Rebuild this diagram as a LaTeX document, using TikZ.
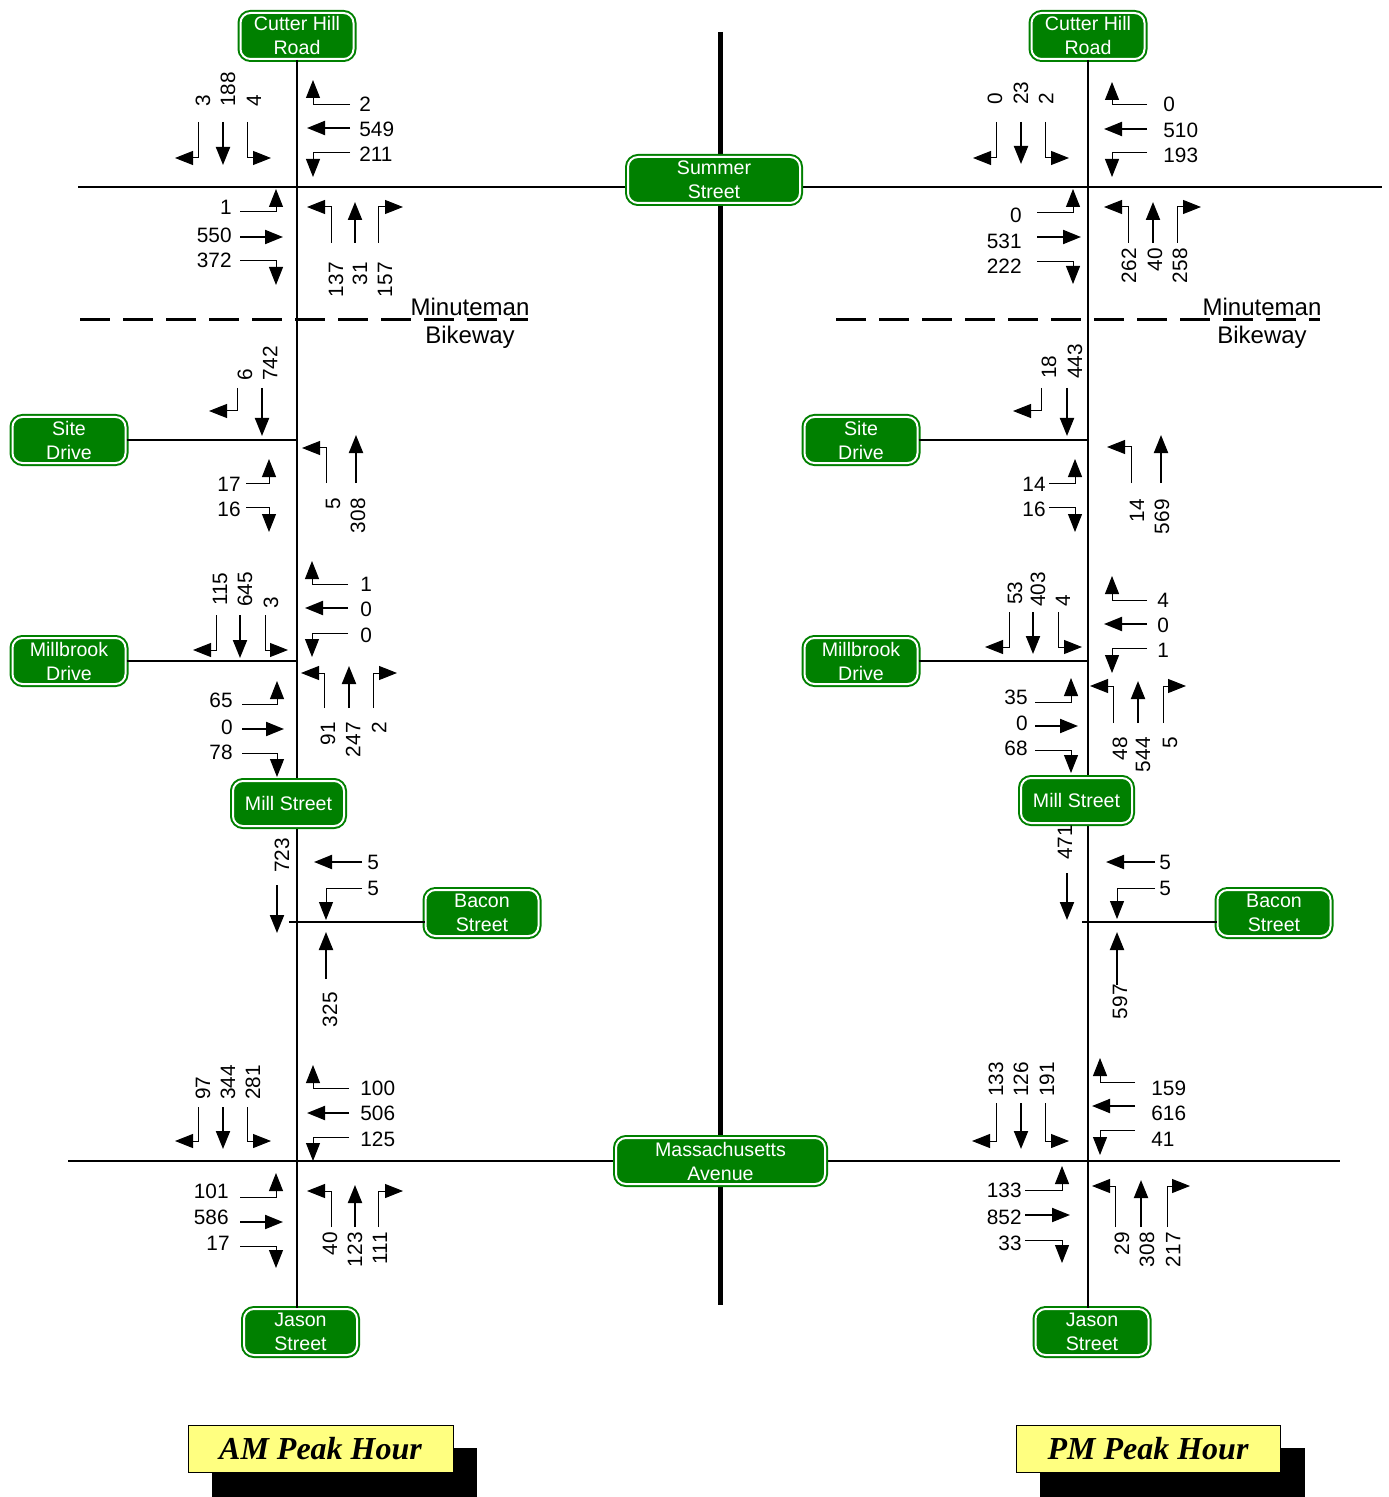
\documentclass[tikz,border=0pt]{standalone}
\usepackage{fontspec}
\setmainfont{Liberation Sans}
\newfontfamily\peakfont{Liberation Serif}
\usetikzlibrary{arrows.meta}
\definecolor{signgreen}{RGB}{0,128,0}
\definecolor{peakyellow}{RGB}{255,255,128}
\tikzset{
  sign/.style={draw=signgreen, double=white, double distance=1pt, line width=1pt,
    fill=signgreen, rounded corners=5pt, text=white, align=center, inner sep=0pt,
    font=\fontsize{9.8}{12}\selectfont, minimum width=56.5pt, minimum height=23pt},
  road/.style={line width=1pt},
  num/.style={font=\fontsize{10.4}{12}\selectfont, inner sep=0pt},
  thru/.style={line width=1pt, -{Triangle[length=9pt,width=7pt]}},
  turn/.style={line width=0.5pt, -{Triangle[length=9pt,width=7pt]}},
  sblab/.style={num, rotate=90, anchor=west},
  nblab/.style={num, rotate=90, anchor=east},
  wblab/.style={num, anchor=west},
  eblab/.style={num, anchor=east},
  peak/.style={draw, line width=0.5pt, fill=peakyellow, minimum width=132.5pt, minimum height=23.5pt,
    font=\peakfont\bfseries\itshape\fontsize{16}{18}\selectfont}
}
\begin{document}
\begin{tikzpicture}[x=0.5pt, y=-0.5pt]
\useasboundingbox (0,0) rectangle (1388,1497);
% free road ends
\coordinate (sumW) at (78,187);
\coordinate (sumE) at (1382,187);
\coordinate (massW) at (68,1161);
\coordinate (massE) at (1340,1161);
\coordinate (divN) at (720,32);
\coordinate (divS) at (720,1305);
\coordinate (baconAMend) at (289,922);
\coordinate (baconPMend) at (1082,922);
\coordinate (bikeAMw) at (80,320);
\coordinate (bikeAMe) at (528,320);
\coordinate (bikePMw) at (836,320);
\coordinate (bikePMe) at (1320,320);
% street signs at road ends
\node[sign] (cutterAM) at (297,36) {Cutter Hill\\Road};
\node[sign] (cutterPM) at (1088,36) {Cutter Hill\\Road};
\node[sign] (jasonAM) at (300.5,1332) {Jason\\Street};
\node[sign] (jasonPM) at (1092,1332) {Jason\\Street};
\node[sign] (siteAM) at (69,440) {Site\\Drive};
\node[sign] (sitePM) at (861,440) {Site\\Drive};
\node[sign] (millbrookAM) at (69,661) {Millbrook\\Drive};
\node[sign] (millbrookPM) at (861,661) {Millbrook\\Drive};
\node[sign] (baconAM) at (482,913) {Bacon\\Street};
\node[sign] (baconPM) at (1274,913) {Bacon\\Street};
% roads
\draw[road] (cutterAM.south) -- (cutterAM.south |- jasonAM.north);
\draw[road] (cutterPM.south) -- (cutterPM.south |- jasonPM.north);
\draw[road] (sumW) -- (sumE);
\draw[road] (massW) -- (massE);
\draw[line width=2.5pt] (divN) -- (divS);
\draw[road] (siteAM.east) -- (siteAM.east -| cutterAM.south);
\draw[road] (sitePM.east) -- (sitePM.east -| cutterPM.south);
\draw[road] (millbrookAM.east) -- (millbrookAM.east -| cutterAM.south);
\draw[road] (millbrookPM.east) -- (millbrookPM.east -| cutterPM.south);
\draw[road] (baconAMend) -- (baconAMend -| baconAM.west);
\draw[road] (baconPMend) -- (baconPMend -| baconPM.west);
% bikeway
\draw[line width=1.5pt, dash pattern=on 15pt off 6.5pt] (bikeAMw) -- (bikeAMe);
\draw[line width=1.5pt, dash pattern=on 15pt off 6.5pt] (bikePMw) -- (bikePMe);
\node[font=\fontsize{12}{14}\selectfont, inner sep=0pt, anchor=base] (minuAM) at (470,316) {Minuteman};
\node[font=\fontsize{12}{14}\selectfont, inner sep=0pt] (bikeAM) at (470,337) {Bikeway};
\node[font=\fontsize{12}{14}\selectfont, inner sep=0pt, anchor=base] (minuPM) at (1262,316) {Minuteman};
\node[font=\fontsize{12}{14}\selectfont, inner sep=0pt] (bikePM) at (1262,337) {Bikeway};
% signs on the roads
\node[sign, minimum width=86pt] (summer) at (714,180) {Summer\\Street};
\node[sign, minimum width=104.5pt] (massave) at (720.5,1161) {Massachusetts\\Avenue};
\node[sign, minimum width=55.5pt, minimum height=22.5pt] (millAM) at (288.5,803.5) {Mill Street};
\node[sign, minimum width=55.5pt, minimum height=22.5pt] (millPM) at (1076.5,800.5) {Mill Street};

% AM: Cutter Hill Road / Summer Street
\draw[turn] (198,122) |- (175,158);
\draw[thru] (223,122) -- (223,165);
\draw[turn] (247,122) |- (271,158);
\node[sblab] at (203,107) {3};
\node[sblab] at (228,107) {188};
\node[sblab] at (254,107) {4};
\draw[turn] (350,105) -| (313,80);
\draw[thru] (350,128) -- (307,128);
\draw[turn] (350,153) -| (313,177);
\node[wblab] at (359,104) {2};
\node[wblab] at (359,129) {549};
\node[wblab] at (359,154) {211};
\draw[turn] (240,212) -| (276,189);
\draw[thru] (240,237) -- (283,237);
\draw[turn] (240,261) -| (276,285);
\node[eblab] at (232,207) {1};
\node[eblab] at (232,235) {550};
\node[eblab] at (232,260) {372};
\draw[turn] (331,243) |- (307,207);
\draw[thru] (355,243) -- (355,202);
\draw[turn] (378,243) |- (403,207);
\node[nblab] at (336,262) {137};
\node[nblab] at (360,262) {31};
\node[nblab] at (385,262) {157};

% AM: Site Drive
\draw[turn] (237,388) |- (209,411);
\draw[thru] (262,388) -- (262,436);
\node[sblab] at (245,381) {6};
\node[sblab] at (270,381) {742};
\draw[turn] (326,483) |- (302,448);
\draw[thru] (356,483) -- (356,435);
\node[nblab] at (333,498) {5};
\node[nblab] at (358,498) {308};
\draw[turn] (246,483) -| (269,459);
\draw[turn] (246,507) -| (269,532);
\node[eblab] at (241,484) {17};
\node[eblab] at (241,509) {16};

% AM: Millbrook Drive
\draw[turn] (216,615) |- (193,650);
\draw[thru] (240,615) -- (240,658);
\draw[turn] (265,615) |- (288,650);
\node[sblab] at (220,606) {115};
\node[sblab] at (245,607) {645};
\node[sblab] at (271,609) {3};
\draw[turn] (348,584) -| (312,561);
\draw[thru] (348,608) -- (305,608);
\draw[turn] (348,633) -| (312,657);
\node[wblab] at (360,584) {1};
\node[wblab] at (360,609) {0};
\node[wblab] at (360,635) {0};
\draw[turn] (324,708) |- (301,673);
\draw[thru] (349,708) -- (349,666);
\draw[turn] (373,708) |- (397,673);
\node[nblab] at (328,722) {91};
\node[nblab] at (353,722) {247};
\node[nblab] at (379,722) {2};
\draw[turn] (242,704) -| (277,681);
\draw[thru] (242,729) -- (284,729);
\draw[turn] (242,753) -| (277,777);
\node[eblab] at (233,700) {65};
\node[eblab] at (233,727) {0};
\node[eblab] at (233,752) {78};

% AM: Bacon Street
\node[sblab] at (282,873) {723};
\draw[thru] (277,885) -- (277,933);
\draw[thru] (362,862) -- (314,862);
\draw[turn] (362,888) -| (326,920);
\node[wblab] at (367,862) {5};
\node[wblab] at (367,888) {5};
\draw[thru] (326,979) -- (326,932);
\node[nblab] at (330,992) {325};

% AM: Massachusetts Avenue
\draw[turn] (198,1107) |- (175,1141);
\draw[thru] (223,1107) -- (223,1149);
\draw[turn] (247,1107) |- (271,1141);
\node[sblab] at (203,1100) {97};
\node[sblab] at (228,1100) {344};
\node[sblab] at (253,1100) {281};
\draw[turn] (349,1088) -| (313,1065);
\draw[thru] (349,1113) -- (307,1113);
\draw[turn] (349,1137) -| (313,1161);
\node[wblab] at (360,1088) {100};
\node[wblab] at (360,1113) {506};
\node[wblab] at (360,1139) {125};
\draw[turn] (240,1197) -| (276,1173);
\draw[thru] (240,1222) -- (283,1222);
\draw[turn] (240,1246) -| (276,1268);
\node[eblab] at (229,1191) {101};
\node[eblab] at (229,1217) {586};
\node[eblab] at (230,1243) {17};
\draw[turn] (331,1227) |- (307,1191);
\draw[thru] (355,1227) -- (355,1185);
\draw[turn] (378,1227) |- (403,1191);
\node[nblab] at (330,1232) {40};
\node[nblab] at (355,1232) {123};
\node[nblab] at (380,1232) {111};

% PM: Cutter Hill Road / Summer Street
\draw[turn] (996,122) |- (973,158);
\draw[thru] (1021,122) -- (1021,164);
\draw[turn] (1045,122) |- (1069,158);
\node[sblab] at (995,105) {0};
\node[sblab] at (1021,105) {23};
\node[sblab] at (1046,105) {2};
\draw[turn] (1147,105) -| (1112,82);
\draw[thru] (1147,129) -- (1104,129);
\draw[turn] (1147,153) -| (1112,177);
\node[wblab] at (1163,104) {0};
\node[wblab] at (1163,130) {510};
\node[wblab] at (1163,155) {193};
\draw[turn] (1037,213) -| (1073,189);
\draw[thru] (1037,237) -- (1081,237);
\draw[turn] (1037,262) -| (1073,284);
\node[eblab] at (1022,215) {0};
\node[eblab] at (1022,241) {531};
\node[eblab] at (1022,266) {222};
\draw[turn] (1128,243) |- (1104,207);
\draw[thru] (1153,243) -- (1153,202);
\draw[turn] (1177,243) |- (1201,207);
\node[nblab] at (1129,248) {262};
\node[nblab] at (1155,248) {40};
\node[nblab] at (1180,248) {258};

% PM: Site Drive
\draw[turn] (1041,388) |- (1013,411);
\draw[thru] (1067,388) -- (1067,436);
\node[sblab] at (1049,379) {18};
\node[sblab] at (1075,379) {443};
\draw[turn] (1131,483) |- (1107,447);
\draw[thru] (1161,483) -- (1161,435);
\node[nblab] at (1137,499) {14};
\node[nblab] at (1162,499) {569};
\draw[turn] (1049,483) -| (1075,459);
\draw[turn] (1049,507) -| (1075,532);
\node[eblab] at (1046,484) {14};
\node[eblab] at (1046,509) {16};

% PM: Millbrook Drive
\draw[turn] (1009,612) |- (985,647);
\draw[thru] (1033,612) -- (1033,654);
\draw[turn] (1058,612) |- (1082,647);
\node[sblab] at (1015,605) {53};
\node[sblab] at (1038,607) {403};
\node[sblab] at (1063,607) {4};
\draw[turn] (1147,600) -| (1112,576);
\draw[thru] (1147,624) -- (1104,624);
\draw[turn] (1147,648) -| (1112,673);
\node[wblab] at (1157,600) {4};
\node[wblab] at (1157,625) {0};
\node[wblab] at (1157,650) {1};
\draw[turn] (1113,723) |- (1090,686);
\draw[thru] (1138,723) -- (1138,681);
\draw[turn] (1163,723) |- (1186,686);
\node[nblab] at (1120,737) {48};
\node[nblab] at (1143,737) {544};
\node[nblab] at (1170,737) {5};
\draw[turn] (1035,702) -| (1071,678);
\draw[thru] (1035,726) -- (1078,726);
\draw[turn] (1035,750) -| (1071,773);
\node[eblab] at (1028,697) {35};
\node[eblab] at (1028,723) {0};
\node[eblab] at (1028,748) {68};

% PM: Bacon Street
\node[sblab] at (1065,860) {471};
\draw[thru] (1067,873) -- (1067,920);
\draw[thru] (1155,862) -- (1106,862);
\draw[turn] (1155,888) -| (1117,919);
\node[wblab] at (1159,862) {5};
\node[wblab] at (1159,888) {5};
\draw[thru] (1117,985) -- (1117,932);
\node[nblab] at (1120,984) {597};

% PM: Massachusetts Avenue
\draw[turn] (996,1103) |- (972,1141);
\draw[thru] (1021,1103) -- (1021,1149);
\draw[turn] (1045,1103) |- (1069,1141);
\node[sblab] at (996,1097) {133};
\node[sblab] at (1021,1097) {126};
\node[sblab] at (1047,1097) {191};
\draw[turn] (1135,1082) -| (1100,1058);
\draw[thru] (1135,1106) -- (1092,1106);
\draw[turn] (1135,1130) -| (1100,1155);
\node[wblab] at (1151,1088) {159};
\node[wblab] at (1151,1113) {616};
\node[wblab] at (1151,1139) {41};
\draw[turn] (1025,1190) -| (1062,1166);
\draw[thru] (1025,1215) -- (1070,1215);
\draw[turn] (1025,1240) -| (1062,1263);
\node[eblab] at (1022,1190) {133};
\node[eblab] at (1022,1217) {852};
\node[eblab] at (1022,1243) {33};
\draw[turn] (1115,1227) |- (1092,1186);
\draw[thru] (1141,1227) -- (1141,1180);
\draw[turn] (1167,1227) |- (1190,1186);
\node[nblab] at (1122,1232) {29};
\node[nblab] at (1147,1232) {308};
\node[nblab] at (1173,1232) {217};

% peak hour labels
\fill (212,1448) rectangle (477,1497);
\node[peak] (amhour) at (320.5,1448.5) {AM Peak Hour};
\fill (1040,1448) rectangle (1305,1497);
\node[peak, minimum width=132pt] (pmhour) at (1148,1448.5) {PM Peak Hour};
\end{tikzpicture}
\end{document}
